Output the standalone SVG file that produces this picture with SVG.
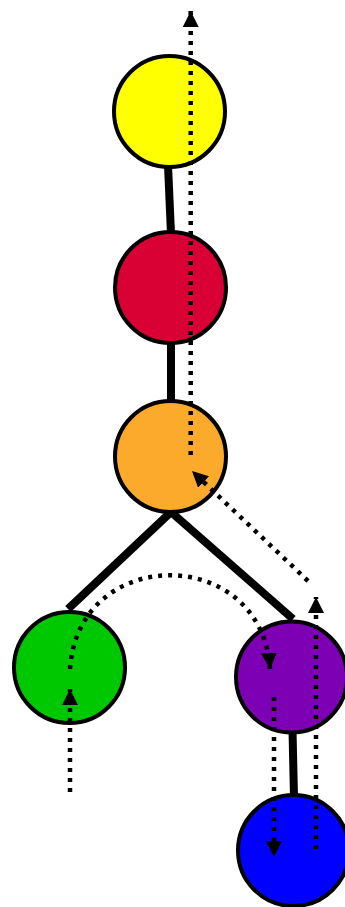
<svg xmlns="http://www.w3.org/2000/svg" width="345" height="907" viewBox="0 0 345 907">
<style>
.edge{stroke:#000;stroke-width:8;fill:none}
.node{stroke:#000;stroke-width:4}
.flow{stroke:#000;stroke-width:4.5;stroke-dasharray:4 6;fill:none;marker-end:url(#ah)}
</style>
<defs>
<marker id="ah" markerUnits="userSpaceOnUse" viewBox="0 0 16 16" markerWidth="16" markerHeight="16" refX="16" refY="8" orient="auto">
<path d="M0,0 L16,8 L0,16 z" fill="#000"/>
</marker>
</defs>
<rect width="345" height="907" fill="#fff"/>
<g id="edges">
<line class="edge" x1="168" y1="165" x2="171" y2="234"/>
<line class="edge" x1="171" y1="340" x2="171" y2="403"/>
<line class="edge" x1="171" y1="512" x2="68" y2="609"/>
<line class="edge" x1="171" y1="512" x2="293" y2="619"/>
<line class="edge" x1="292.5" y1="730" x2="294" y2="797"/>
</g>
<g id="yellow"><circle class="node" cx="169.5" cy="111.5" r="55.5" fill="#ffff00"/></g>
<g id="red"><circle class="node" cx="170.5" cy="287.5" r="55.5" fill="#d90033"/></g>
<g id="orange"><circle class="node" cx="170.5" cy="456.5" r="55.5" fill="#fbaa2b"/></g>
<g id="green"><circle class="node" cx="69.5" cy="667.5" r="55.5" fill="#00c800"/></g>
<g id="purple"><circle class="node" cx="291.5" cy="677" r="55.5" fill="#7d00b4"/></g>
<g id="blue"><circle class="node" cx="293.5" cy="850.5" r="55.5" fill="#0000ff"/></g>
<g id="flows">
<line class="flow" x1="190.7" y1="455" x2="190.7" y2="11"/>
<line class="flow" x1="308" y1="581" x2="192" y2="471"/>
<path class="flow" d="M70,669 C78,544 262,544 270,669"/>
<line class="flow" x1="70" y1="792" x2="70" y2="689"/>
<line class="flow" x1="274" y1="697" x2="274" y2="857"/>
<line class="flow" x1="316" y1="849" x2="316" y2="597"/>
</g>
</svg>
